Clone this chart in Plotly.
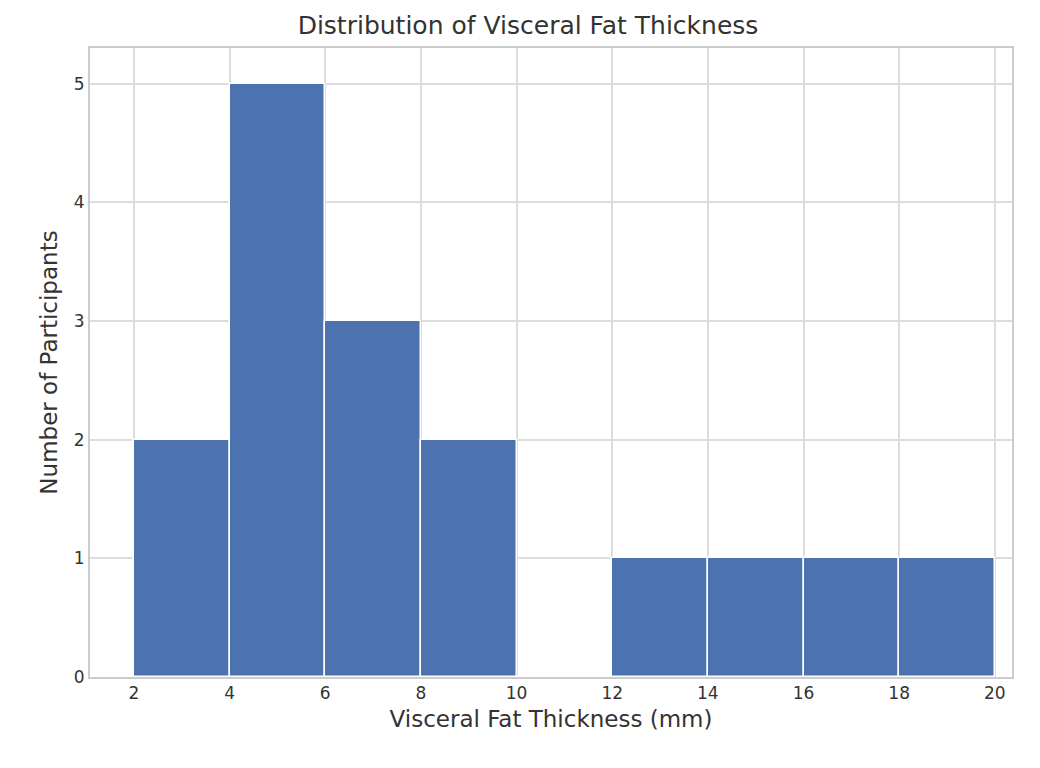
import plotly.graph_objects as go

bin_starts = [2, 4, 6, 8, 10, 12, 14, 16, 18]
counts = [2, 5, 3, 2, 0, 1, 1, 1, 1]
bin_width = 2
x_ticks = [2, 4, 6, 8, 10, 12, 14, 16, 18, 20]
y_ticks = [0, 1, 2, 3, 4, 5]

centers = [s + bin_width / 2 for s in bin_starts]

fig = go.Figure()
fig.add_bar(
    x=centers, y=counts, width=[bin_width] * len(centers),
    marker=dict(color="#4c72b0", line=dict(color="white", width=1.5)),
)

axis_style = dict(
    showgrid=True, gridcolor="#dcdcdc", gridwidth=1.5,
    showline=True, linecolor="#cccccc", linewidth=2, mirror=True,
    zeroline=False, ticks="", tickfont=dict(size=17, color="#333333"),
)
fig.update_xaxes(range=[1.08, 20.36], tickvals=x_ticks,
                 title=dict(text="Visceral Fat Thickness (mm)", font=dict(size=23, color="#333333"), standoff=8),
                 **axis_style)
fig.update_yaxes(range=[0, 5.3], tickvals=y_ticks,
                 title=dict(text="Number of Participants", font=dict(size=23, color="#333333"), standoff=10),
                 **axis_style)
fig.update_layout(
    width=1040, height=768,
    margin=dict(l=82, r=36, t=40, b=99),
    title=dict(text="Distribution of Visceral Fat Thickness", x=0.5, xanchor="center",
               y=0.977, yanchor="middle", font=dict(size=25, color="#333333")),
    font=dict(family="DejaVu Sans"),
    plot_bgcolor="white", paper_bgcolor="white",
    showlegend=False, bargap=0,
)
fig.write_html("out.html")
